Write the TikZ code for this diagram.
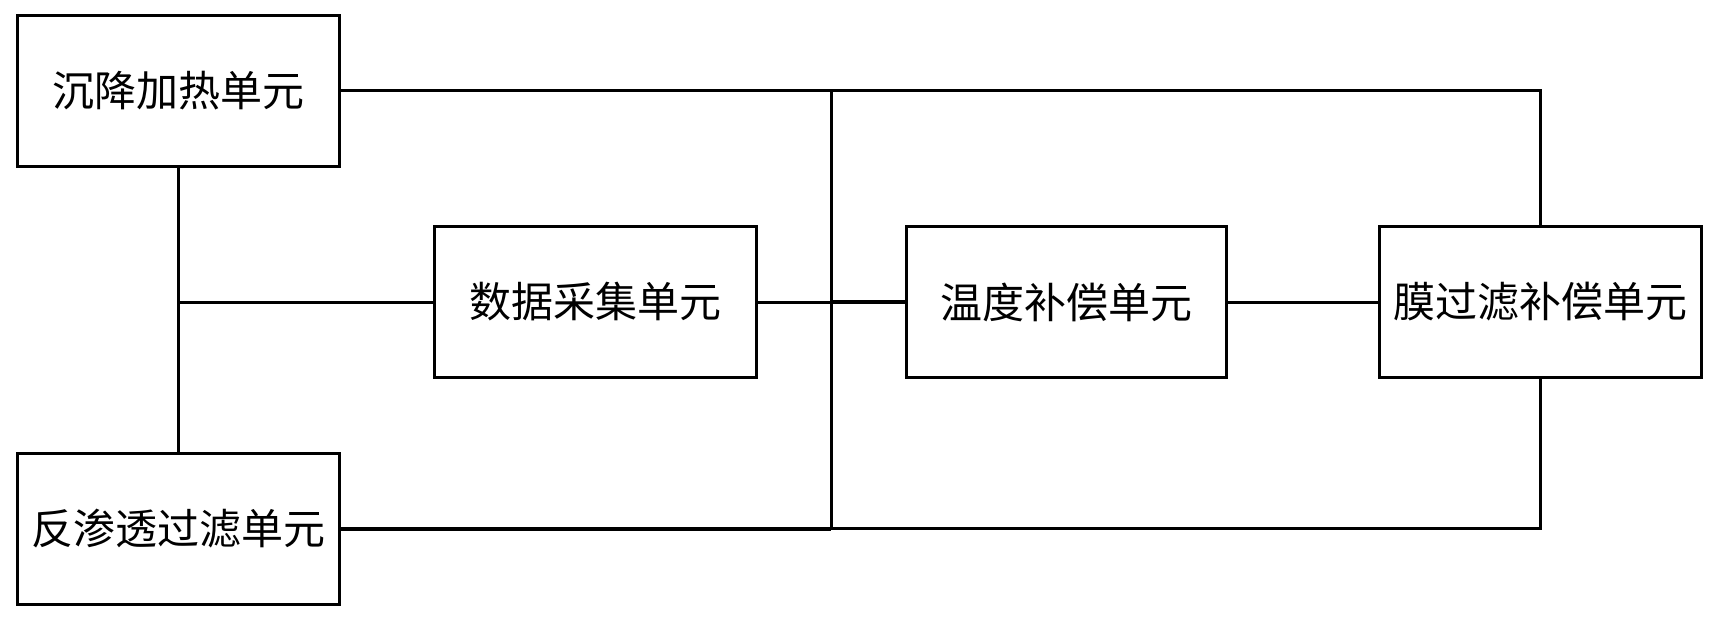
\documentclass[tikz,border=0pt]{standalone}
\usepackage{fontspec}
\setmainfont{Noto Sans CJK SC}
\begin{document}
\begin{tikzpicture}[x=1pt,y=-1pt,
  unitbox/.style={draw=black,line width=3pt,fill=white,minimum width=322pt,minimum height=151pt,inner sep=0pt,font=\fontsize{42pt}{46pt}\selectfont},
  wire/.style={draw=black,line width=3pt},
  heavywire/.style={draw=black,line width=4pt}]
\useasboundingbox[fill=white] (0,0) rectangle (1716,622);
\coordinate (tr) at (1540,90.5);
\coordinate (br) at (1540,528.5);
\coordinate (vt) at (831,90.5);
\coordinate (vb) at (831,528.5);
\coordinate (vm) at (831,302);
\coordinate (lj) at (178,302);
\draw[heavywire] (vm) -- (907,302);
\draw[heavywire] (339,528.5) -- (vb);
\node[unitbox] (cj) at (178,90.5) {沉降加热单元};
\node[unitbox] (fs) at (178,528.5) {反渗透过滤单元};
\node[unitbox] (sj) at (595.5,302) {数据采集单元};
\node[unitbox,minimum width=320pt] (wd) at (1066.5,302) {温度补偿单元};
\node[unitbox] (mo) at (1540,302) {膜过滤补偿单元};
\draw[wire] (cj.east) -- (tr) -- (mo.north);
\draw[wire] (fs.east) -- (br) -- (mo.south);
\draw[wire] (vt) -- (vb);
\draw[wire] (cj.south) -- (fs.north);
\draw[wire] (lj) -- (sj.west);
\draw[wire] (sj.east) -- (wd.west);
\draw[wire] (wd.east) -- (mo.west);
\end{tikzpicture}
\end{document}
